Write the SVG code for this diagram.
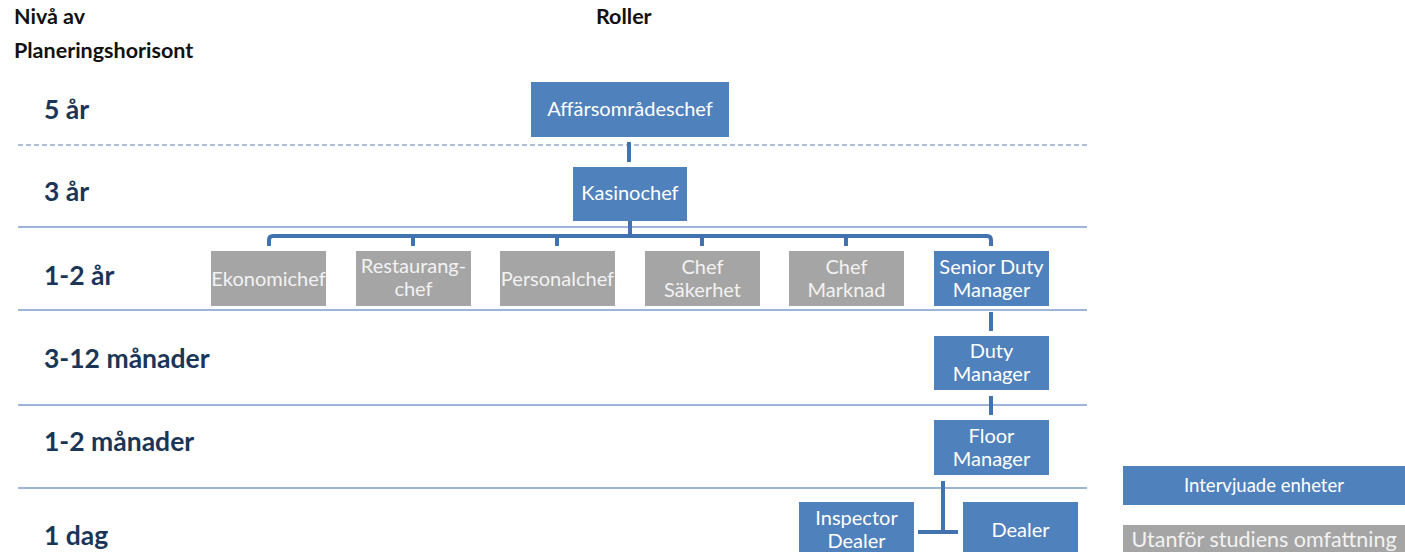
<svg xmlns="http://www.w3.org/2000/svg" width="1405" height="552" viewBox="0 0 1405 552">
<style>
.title{font-family:Lato,"Open Sans","Liberation Sans",sans-serif;font-weight:bold;font-size:21.5px;fill:#111}
.lvl{font-family:Lato,"Open Sans","Liberation Sans",sans-serif;font-weight:bold;font-size:26.5px;fill:#1b3556}
.bt{font-family:Lato,"Open Sans","Liberation Sans",sans-serif;font-size:20px;text-anchor:middle}
.blue rect{fill:#4f81bd}
.blue text{fill:#ffffff}
.gray rect{fill:#a5a5a5}
.gray text{fill:#f2f2f2}
.sep{stroke:#7b9ccb;stroke-width:1.5;fill:none}
.dash{stroke:#8fa8cc;stroke-width:1.5;stroke-dasharray:5 3;fill:none}
.con{stroke:#4273ae;stroke-width:4;fill:none}
</style>
<g id="headers">
<text class="title" x="14" y="24">Nivå av</text>
<text class="title" x="14" y="58">Planeringshorisont</text>
<text class="title" x="596" y="24">Roller</text>
</g>
<g id="levels">
<line class="dash" x1="18" y1="145" x2="1087" y2="145"/>
<line class="sep" x1="18" y1="227" x2="1087" y2="227"/>
<line class="sep" x1="18" y1="310" x2="1087" y2="310"/>
<line class="sep" x1="18" y1="405" x2="1087" y2="405"/>
<line class="sep" x1="18" y1="488" x2="1087" y2="488"/>
<text class="lvl" x="44" y="119">5 år</text>
<text class="lvl" x="44" y="201">3 år</text>
<text class="lvl" x="44" y="285">1-2 år</text>
<text class="lvl" x="44" y="368">3-12 månader</text>
<text class="lvl" x="44" y="451">1-2 månader</text>
<text class="lvl" x="44" y="545">1 dag</text>
</g>
<g id="connectors">
<line class="con" x1="629" y1="142" x2="629" y2="162"/>
<line class="con" x1="630" y1="221" x2="630" y2="236"/>
<path class="con" d="M269 246 V240 Q269 236 273 236 H987 Q991 236 991 240 V246"/>
<line class="con" x1="413" y1="236" x2="413" y2="246"/>
<line class="con" x1="557" y1="236" x2="557" y2="246"/>
<line class="con" x1="702" y1="236" x2="702" y2="246"/>
<line class="con" x1="846" y1="236" x2="846" y2="246"/>
<line class="con" x1="991" y1="312" x2="991" y2="331"/>
<line class="con" x1="991" y1="396" x2="991" y2="415"/>
<line class="con" x1="943" y1="481" x2="943" y2="532"/>
<line class="con" x1="918" y1="532" x2="958" y2="532"/>
</g>
<g id="n-affar" class="blue"><rect x="531" y="82" width="198" height="55"/><text class="bt" x="630" y="116">Affärsområdeschef</text></g>
<g id="n-kasino" class="blue"><rect x="573" y="167" width="114" height="54"/><text class="bt" x="630" y="200">Kasinochef</text></g>
<g id="n-ekonomi" class="gray"><rect x="211" y="251" width="115" height="55"/><text class="bt" x="268.5" y="286">Ekonomichef</text></g>
<g id="n-restaurang" class="gray"><rect x="356" y="251" width="115" height="55"/><text class="bt" x="413.5" y="273">Restaurang-</text><text class="bt" x="413.5" y="296">chef</text></g>
<g id="n-personal" class="gray"><rect x="500" y="251" width="115" height="55"/><text class="bt" x="557.5" y="286">Personalchef</text></g>
<g id="n-sakerhet" class="gray"><rect x="645" y="251" width="115" height="55"/><text class="bt" x="702.5" y="274">Chef</text><text class="bt" x="702.5" y="297">Säkerhet</text></g>
<g id="n-marknad" class="gray"><rect x="789" y="251" width="115" height="55"/><text class="bt" x="846.5" y="274">Chef</text><text class="bt" x="846.5" y="297">Marknad</text></g>
<g id="n-senior" class="blue"><rect x="934" y="251" width="115" height="55"/><text class="bt" x="991.5" y="274">Senior Duty</text><text class="bt" x="991.5" y="297">Manager</text></g>
<g id="n-duty" class="blue"><rect x="934" y="336" width="115" height="54"/><text class="bt" x="991.5" y="358">Duty</text><text class="bt" x="991.5" y="381">Manager</text></g>
<g id="n-floor" class="blue"><rect x="934" y="420" width="115" height="55"/><text class="bt" x="991.5" y="443">Floor</text><text class="bt" x="991.5" y="466">Manager</text></g>
<g id="n-inspector" class="blue"><rect x="799" y="502" width="115" height="55"/><text class="bt" x="856.5" y="525">Inspector</text><text class="bt" x="856.5" y="548">Dealer</text></g>
<g id="n-dealer" class="blue"><rect x="963" y="502" width="115" height="55"/><text class="bt" x="1020.5" y="537">Dealer</text></g>
<g id="legend-blue" class="blue"><rect x="1123" y="466" width="282" height="39"/><text class="bt" x="1264" y="492" style="font-size:18.5px">Intervjuade enheter</text></g>
<g id="legend-gray" class="gray"><rect x="1123" y="525" width="282" height="30"/><text class="bt" x="1264" y="547" style="font-size:21.5px">Utanför studiens omfattning</text></g>
</svg>
